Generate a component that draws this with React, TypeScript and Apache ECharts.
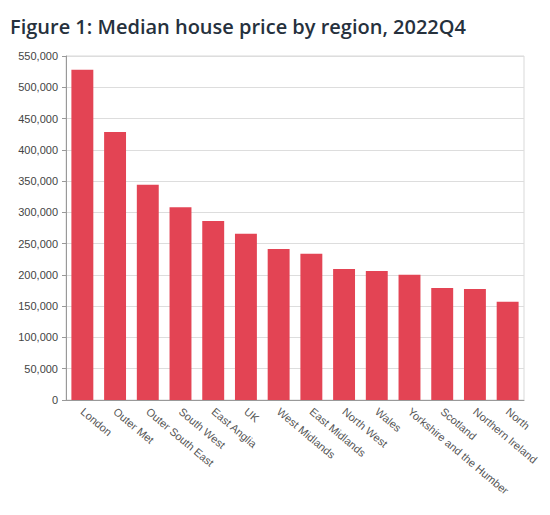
import React, { useEffect, useRef } from "react";
import * as echarts from "echarts";

const titleText = "Figure 1: Median house price by region, 2022Q4";
const regions = [
  "London",
  "Outer Met",
  "Outer South East",
  "South West",
  "East Anglia",
  "UK",
  "West Midlands",
  "East Midlands",
  "North West",
  "Wales",
  "Yorkshire and the Humber",
  "Scotland",
  "Northern Ireland",
  "North",
];
const medianPrice = [
  528000, 428500, 344300, 308100, 286200, 266000, 241400, 234000, 209500,
  206300, 200400, 179100, 177500, 157200,
];
const yMin = 0;
const yMax = 550000;
const yInterval = 50000;

export default function App() {
  const ref = useRef<HTMLDivElement>(null);
  useEffect(() => {
    if (!ref.current) return;
    const chart = echarts.init(ref.current, undefined, { renderer: "svg" });
    chart.setOption({
      animation: false,
      backgroundColor: "#ffffff",
      title: {
        text: titleText,
        left: 5,
        top: 11,
        textStyle: {
          fontFamily: "Open Sans",
          fontWeight: 600,
          fontSize: 20,
          color: "#26313d",
        },
      },
      grid: {
        left: 66,
        right: 26,
        top: 56,
        bottom: 115,
        show: true,
        borderColor: "#d9d9d9",
        borderWidth: 1,
      },
      xAxis: {
        type: "category",
        data: regions,
        axisLine: { lineStyle: { color: "#999999", width: 1 } },
        axisTick: {
          alignWithLabel: true,
          length: 5,
          lineStyle: { color: "#999999" },
        },
        axisLabel: {
          rotate: -40,
          interval: 0,
          margin: 10,
          fontFamily: "Liberation Sans",
          fontSize: 11,
          color: "#555555",
        },
      },
      yAxis: {
        type: "value",
        min: yMin,
        max: yMax,
        interval: yInterval,
        axisLine: { show: true, lineStyle: { color: "#999999", width: 1 } },
        axisTick: { show: true, length: 4, lineStyle: { color: "#999999" } },
        axisLabel: {
          margin: 8,
          fontFamily: "Liberation Sans",
          fontSize: 11,
          color: "#444444",
          formatter: (v: number) => v.toLocaleString("en-GB"),
        },
        splitLine: { lineStyle: { color: "#dddddd", width: 1 } },
      },
      series: [
        {
          type: "bar",
          data: medianPrice,
          barCategoryGap: "33%",
          itemStyle: { color: "#e34454" },
        },
      ],
    });
    return () => chart.dispose();
  }, []);
  return (
    <div
      ref={ref}
      style={{ position: "fixed", left: 0, top: 0, width: 550, height: 515 }}
    />
  );
}
